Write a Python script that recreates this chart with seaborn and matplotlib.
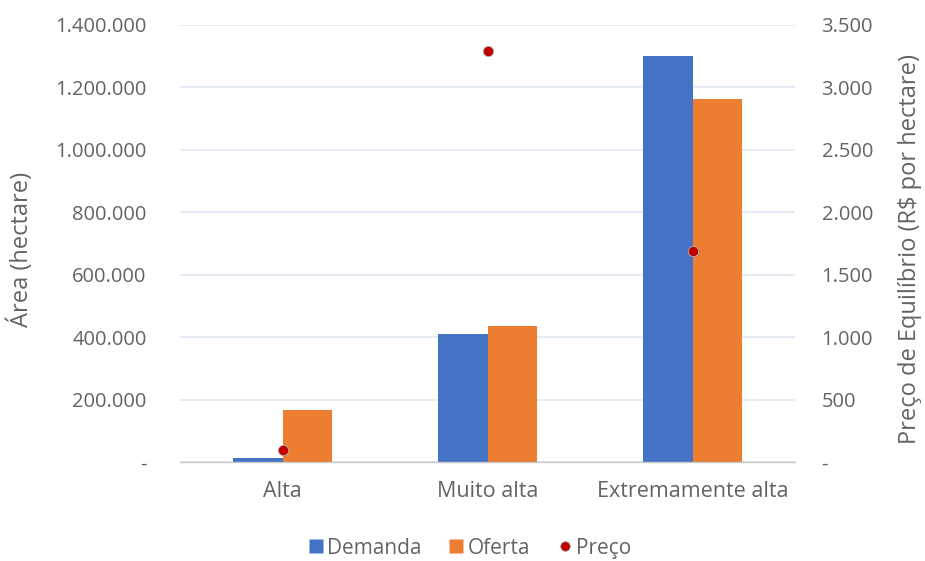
import matplotlib
matplotlib.use("Agg")
import matplotlib.pyplot as plt
from matplotlib.lines import Line2D
from matplotlib.ticker import FuncFormatter, MultipleLocator
import seaborn as sns
import pandas as pd

# Data
categorias = ["Alta", "Muito alta", "Extremamente alta"]
demanda = [14000, 410000, 1301000]
oferta = [166000, 437000, 1162000]
preco = [92, 3295, 1692]

serie_nomes = ["Demanda", "Oferta"]
cores = ["#4472C4", "#ED7D31"]
cor_preco = "#C00000"
cor_texto = "#636363"

df = pd.DataFrame({
    "categoria": categorias * 2,
    "serie": [serie_nomes[0]] * 3 + [serie_nomes[1]] * 3,
    "area": demanda + oferta,
})
df_preco = pd.DataFrame({"categoria": categorias, "preco": preco})

sns.set_theme(style="white")
plt.rcParams["font.family"] = ["Open Sans", "DejaVu Sans"]

fig = plt.figure(figsize=(9.25, 5.61), dpi=100)
ax = fig.add_axes([0.1946, 0.1765, 0.665, 0.779])

sns.barplot(data=df, x="categoria", y="area", hue="serie", order=categorias,
            hue_order=serie_nomes, palette=cores, width=0.48, gap=0,
            saturation=1, ax=ax, legend=False, edgecolor="none")

ax2 = ax.twinx()
sns.scatterplot(data=df_preco, x="categoria", y="preco", ax=ax2, color=cor_preco,
                s=55, edgecolor="#B0B0B0", linewidth=0.6, legend=False, zorder=5)

ax.set_xlim(-0.5, 2.5)
ax.set_ylim(0, 1400000)
ax2.set_ylim(0, 3500)
ax.yaxis.set_major_locator(MultipleLocator(200000))
ax2.yaxis.set_major_locator(MultipleLocator(500))


def fmt_milhar(v, _pos):
    if abs(v) < 1e-9:
        return "-"
    return f"{int(round(v)):,}".replace(",", ".")


ax.yaxis.set_major_formatter(FuncFormatter(fmt_milhar))
ax2.yaxis.set_major_formatter(FuncFormatter(fmt_milhar))

ax.grid(axis="y", color="#DCE5F1", linewidth=1.1)
ax.set_axisbelow(True)
for a in (ax, ax2):
    for s in a.spines.values():
        s.set_visible(False)
ax.spines["bottom"].set_visible(True)
ax.spines["bottom"].set_color("#C8C8C8")
ax.spines["bottom"].set_linewidth(1.0)

ax.tick_params(axis="y", length=0, pad=24, labelsize=14.5, labelcolor=cor_texto)
ax2.tick_params(axis="y", length=0, pad=19, labelsize=14.5, labelcolor=cor_texto)
ax.tick_params(axis="x", length=0, pad=14, labelsize=15.5, labelcolor=cor_texto)
ax.set_xlabel("")
ax.set_ylabel("")
ax2.set_xlabel("")
ax2.set_ylabel("")

fig.text(0.022, 0.556, "Área (hectare)", rotation=90, va="center", ha="center",
         fontsize=17, color=cor_texto)
fig.text(0.984, 0.556, "Preço de Equilíbrio (R$ por hectare)", rotation=90,
         va="center", ha="center", fontsize=17, color=cor_texto)

handles = [
    Line2D([], [], marker="s", linestyle="none", markersize=10,
           markerfacecolor=cores[0], markeredgecolor="none"),
    Line2D([], [], marker="s", linestyle="none", markersize=10,
           markerfacecolor=cores[1], markeredgecolor="none"),
    Line2D([], [], marker="o", linestyle="none", markersize=7,
           markerfacecolor=cor_preco, markeredgecolor="#B0B0B0", markeredgewidth=0.6),
]
leg = fig.legend(handles, ["Demanda", "Oferta", "Preço"], loc="center",
                 bbox_to_anchor=(0.507, 0.023), ncol=3, frameon=False,
                 fontsize=15, handletextpad=0.1, columnspacing=1.2,
                 handlelength=0.9)
for t in leg.get_texts():
    t.set_color(cor_texto)

fig.savefig("out.png", dpi=100, facecolor="white")
